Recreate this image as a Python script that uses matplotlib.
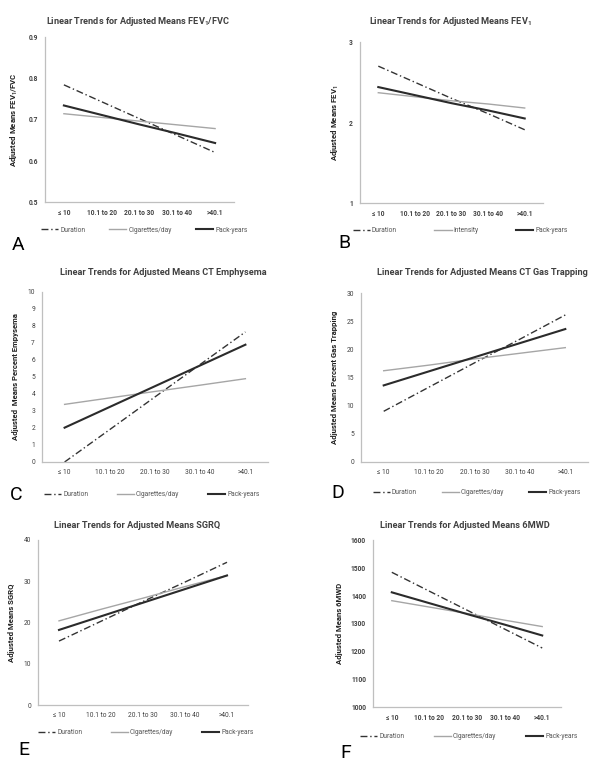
import matplotlib
matplotlib.use("Agg")
import matplotlib.pyplot as plt

plt.rcParams['font.family'] = ['Roboto', 'DejaVu Sans']
plt.rcParams['mathtext.fontset'] = 'custom'
plt.rcParams['mathtext.rm'] = 'Roboto'
plt.rcParams['mathtext.bf'] = 'Roboto:bold'

# exposure categories shared by all panels
categories = ["\u2264 10", "10.1 to 20", "20.1 to 30", "30.1 to 40", ">40.1"]

# adjusted means (duration, cigarettes/day, pack-years)
fev1_fvc_duration = [0.784, 0.743, 0.702, 0.661, 0.620]
fev1_fvc_cigs = [0.714, 0.705, 0.696, 0.687, 0.678]
fev1_fvc_pack = [0.734, 0.711, 0.688, 0.666, 0.643]

fev1_duration = [2.70, 2.50, 2.30, 2.11, 1.91]
fev1_intensity = [2.37, 2.32, 2.27, 2.23, 2.18]
fev1_pack = [2.44, 2.34, 2.24, 2.15, 2.05]

emph_duration = [0.0, 1.91, 3.83, 5.74, 7.65]
emph_cigs = [3.39, 3.77, 4.15, 4.52, 4.90]
emph_pack = [2.02, 3.24, 4.46, 5.68, 6.90]

gas_duration = [9.0, 13.3, 17.6, 21.8, 26.1]
gas_cigs = [16.2, 17.2, 18.3, 19.3, 20.3]
gas_pack = [13.6, 16.1, 18.6, 21.1, 23.6]

sgrq_duration = [15.5, 20.3, 25.1, 29.8, 34.6]
sgrq_cigs = [20.4, 23.2, 25.9, 28.7, 31.4]
sgrq_pack = [18.2, 21.5, 24.8, 28.1, 31.4]

mwd_duration = [1484, 1416, 1348, 1280, 1212]
mwd_cigs = [1382, 1359, 1336, 1312, 1289]
mwd_pack = [1412, 1373, 1334, 1296, 1257]

W, H = 604, 774
fig = plt.figure(figsize=(W / 100, H / 100), dpi=100)
fig.patch.set_facecolor("white")

TXT = "#404040"


def px_axes(left, top, right, bottom):
    """Creates an axes from pixel edges of the reference image."""
    return fig.add_axes([left / W, 1 - bottom / H, (right - left) / W, (bottom - top) / H])


def draw_panel(box, series, mid_label, ylim, yticks, ytick_fmt, ylabel, title, title_xy,
               legend_box, letter, letter_xy, bold_ticks):
    ax = px_axes(*box)
    x = list(range(len(categories)))
    duration, middle, pack = series
    ax.plot(x, duration, color="#333333", lw=1.0, linestyle=(0, (5, 2, 1, 2)), label="Duration")
    ax.plot(x, middle, color="#a6a6a6", lw=1.0, label=mid_label)
    ax.plot(x, pack, color="#2b2b2b", lw=1.5, label="Pack-years")
    ax.set_xlim(-0.5, len(categories) - 0.5)
    ax.set_ylim(*ylim)
    ax.set_yticks(yticks)
    ax.set_yticklabels([ytick_fmt.format(v) for v in yticks])
    ax.set_xticks(x)
    ax.set_xticklabels(categories)
    weight = "bold" if bold_ticks else "normal"
    ax.tick_params(length=0, labelsize=4.8, colors=TXT, pad=5)
    for lab in ax.get_xticklabels() + ax.get_yticklabels():
        lab.set_fontweight(weight)
    for s in ("top", "right"):
        ax.spines[s].set_visible(False)
    for s in ("left", "bottom"):
        ax.spines[s].set_color("#bfbfbf")
        ax.spines[s].set_linewidth(0.9)
    ax.set_ylabel(ylabel, fontsize=5.6, fontweight="bold", color="#202020", labelpad=6)
    fig.text(title_xy[0] / W, 1 - title_xy[1] / H, title, ha="center", va="center",
             fontsize=6.6, fontweight="bold", color=TXT)
    lx0, lx1, ly = legend_box
    ax.legend(loc="center", ncol=3, frameon=False, mode="expand",
              bbox_to_anchor=(lx0 / W, 1 - ly / H - 0.01, (lx1 - lx0) / W, 0.02),
              bbox_transform=fig.transFigure, fontsize=4.8, labelcolor="#555555",
              handlelength=2.6, handletextpad=0.3, borderaxespad=0)
    fig.text(letter_xy[0] / W, 1 - letter_xy[1] / H, letter, ha="left", va="center",
             fontsize=14, color="black")
    return ax


draw_panel((45, 37, 234, 202), (fev1_fvc_duration, fev1_fvc_cigs, fev1_fvc_pack),
           "Cigarettes/day", (0.5, 0.9), [0.5, 0.6, 0.7, 0.8, 0.9], "{:.1f}",
           "Adjusted Means FEV$_\\mathbf{1}$/FVC", "Linear Trends for Adjusted Means FEV$_\\mathbf{1}$/FVC",
           (138, 22), (38, 250, 230), "A", (12, 245), True)

draw_panel((360, 42, 543, 203), (fev1_duration, fev1_intensity, fev1_pack),
           "Intensity", (1, 3), [1, 2, 3], "{:d}",
           "Adjusted Means FEV$_\\mathbf{1}$", "Linear Trends for Adjusted Means FEV$_\\mathbf{1}$",
           (450, 22), (350, 570, 231), "B", (338, 243), True)

draw_panel((42, 292, 268, 462), (emph_duration, emph_cigs, emph_pack),
           "Cigarettes/day", (0, 10), list(range(0, 11)), "{:d}",
           "Adjusted  Means Percent Empysema", "Linear Trends for Adjusted Means CT Emphysema",
           (163, 273), (41, 262, 495), "C", (10, 495), False)

draw_panel((361, 293, 588, 462), (gas_duration, gas_cigs, gas_pack),
           "Cigarettes/day", (0, 30), list(range(0, 31, 5)), "{:d}",
           "Adjusted Means Percent Gas Trapping", "Linear Trends for Adjusted Means CT Gas Trapping",
           (482, 273), (370, 583, 493), "D", (331, 493), False)

draw_panel((38, 540, 248, 705), (sgrq_duration, sgrq_cigs, sgrq_pack),
           "Cigarettes/day", (0, 40), [0, 10, 20, 30, 40], "{:d}",
           "Adjusted Means SGRQ", "Linear Trends for Adjusted Means SGRQ",
           (137, 525), (35, 256, 733), "E", (18, 750), False)

draw_panel((373, 540, 561, 707), (mwd_duration, mwd_cigs, mwd_pack),
           "Cigarettes/day", (1000, 1600), list(range(1000, 1601, 100)), "{:d}",
           "Adjusted Means 6MWD", "Linear Trends for Adjusted Means 6MWD",
           (465, 525), (357, 580, 737), "F", (340, 753), True)

fig.savefig("out.png", dpi=100, facecolor="white")
